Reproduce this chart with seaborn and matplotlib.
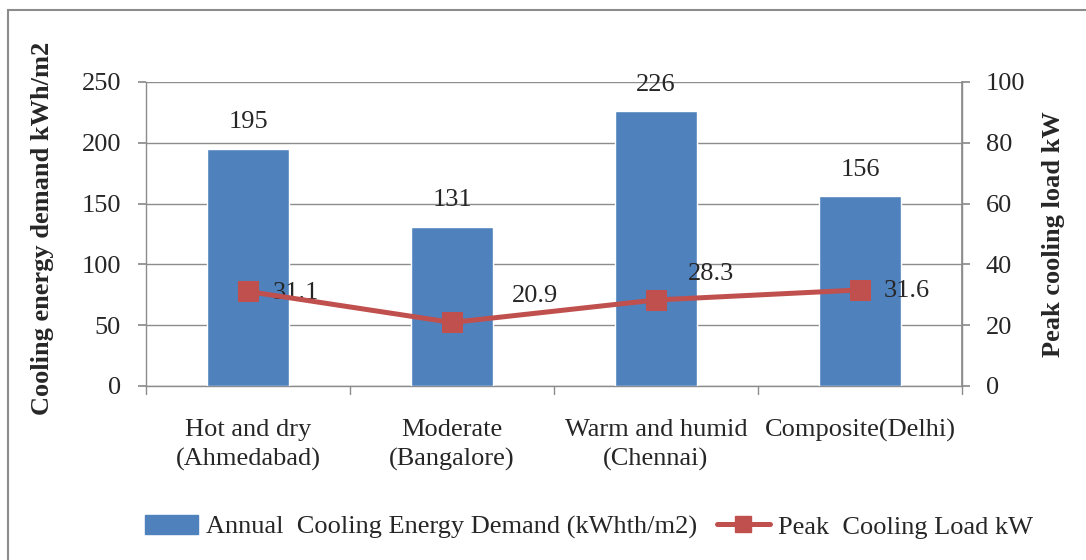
import matplotlib
matplotlib.use("Agg")
import matplotlib.pyplot as plt
import seaborn as sns
import pandas as pd
from matplotlib.patches import Rectangle, Patch
from matplotlib.lines import Line2D

# Climate zones and measured values
categories = ["Hot and dry\n(Ahmedabad)", "Moderate\n(Bangalore)",
              "Warm and humid\n(Chennai)", "Composite(Delhi)"]
energy_demand = [195, 131, 226, 156]
peak_load = [31.1, 20.9, 28.3, 31.6]

bar_label = "Annual  Cooling Energy Demand (kWhth/m2)"
line_label = "Peak  Cooling Load kW"
left_title = "Cooling energy demand kWh/m2"
right_title = "Peak cooling load kW"

BLUE = "#4F81BD"
RED = "#C0504D"
GRID = "#8C8C8C"
FS = 19

sns.set_theme(style="white")
plt.rcParams["font.family"] = ["Liberation Serif", "DejaVu Serif"]

df = pd.DataFrame({"zone": categories, "demand": energy_demand, "peak": peak_load})

fig = plt.figure(figsize=(10.86, 5.6), dpi=100)
ax = fig.add_axes([146 / 1086, 1 - 386 / 560, (962 - 146) / 1086, (386 - 82) / 560])

sns.barplot(data=df, x="zone", y="demand", color=BLUE, width=0.4,
            saturation=1, ax=ax, zorder=3)
ax.set_ylim(0, 250)
ax.set_xlim(-0.5, len(categories) - 0.5)
ax.set_yticks(range(0, 251, 50))
ax.yaxis.grid(True, color=GRID, linewidth=1.0, zorder=0)
ax.set_axisbelow(True)
ax.spines["top"].set_visible(False)
for side in ["left", "right", "bottom"]:
    ax.spines[side].set_color(GRID)
    ax.spines[side].set_linewidth(1.0)
ax.set_xlabel("")
ax.set_ylabel(left_title, fontsize=FS, fontweight="bold", labelpad=20)
ax.yaxis.label.set_y(0.52)
ax.tick_params(axis="y", labelsize=FS, left=True, length=6, color=GRID, pad=12)
ax.tick_params(axis="x", labelsize=FS, bottom=False, pad=18)
for lbl in ax.get_xticklabels():
    lbl.set_linespacing(1.4)

# Category separators on the x axis
for b in range(len(categories) + 1):
    ax.plot([b - 0.5, b - 0.5], [0, -0.025], transform=ax.get_xaxis_transform(),
            color=GRID, linewidth=1.0, clip_on=False)

for i, v in enumerate(energy_demand):
    ax.annotate(f"{v}", (i, v), xytext=(0, 19), textcoords="offset points",
                ha="center", va="center", fontsize=FS)

ax2 = ax.twinx()
sns.lineplot(x=list(range(len(categories))), y=peak_load, ax=ax2, color=RED,
             linewidth=3.6, marker="s", markersize=14, markeredgecolor=RED,
             markerfacecolor=RED, zorder=5)
ax2.set_ylim(0, 100)
ax2.set_yticks(range(0, 101, 20))
ax2.tick_params(axis="y", labelsize=FS, right=True, length=6, color=GRID, pad=11)
for side in ["top", "left", "bottom"]:
    ax2.spines[side].set_visible(False)
ax2.spines["right"].set_color(GRID)
ax2.set_ylabel(right_title, fontsize=FS, fontweight="bold", labelpad=12)

line_offsets = [(18, -1), (43, 19), (23, 19), (17, -1)]
for i, (v, off) in enumerate(zip(peak_load, line_offsets)):
    ax2.annotate(f"{v}", (i, v), xytext=off, textcoords="offset points",
                 ha="left", va="center", fontsize=FS)

handles = [Patch(facecolor=BLUE, edgecolor=BLUE),
           Line2D([0], [0], color=RED, linewidth=3.6, marker="s", markersize=11)]
fig.legend(handles, [bar_label, line_label], loc="center",
           bbox_to_anchor=(589 / 1086, 1 - 527 / 560), ncol=2, frameon=False,
           fontsize=FS, handlelength=2.0, handletextpad=0.3, columnspacing=0.75)

# Outer chart border (runs off the right and bottom edges)
fig.patches.append(Rectangle((8 / 1086, -0.2), 1.2, 1.2 - 10 / 560,
                             transform=fig.transFigure, fill=False,
                             edgecolor="#8C8C8C", linewidth=1.5))

fig.savefig("out.png", dpi=100, facecolor="white")
